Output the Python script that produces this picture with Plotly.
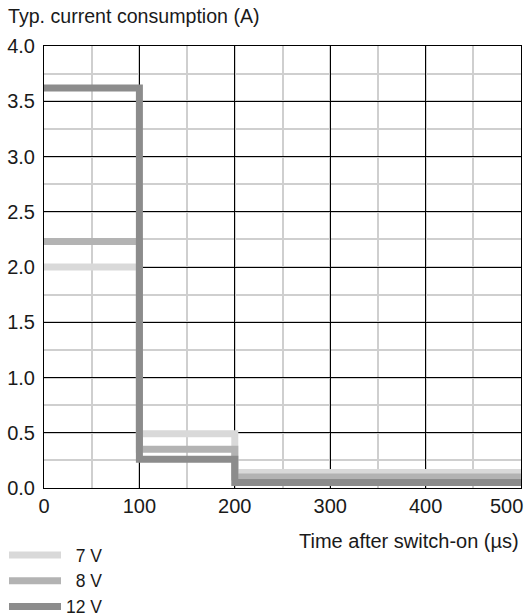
import plotly.graph_objects as go

# Data
series_names = ["7 V", "8 V", "12 V"]
legend_labels = ["\u20077 V", "\u20078 V", "12 V"]
time_us = [0, 100, 200, 500]
current_7v = [2.00, 0.49, 0.14, 0.14]
current_8v = [2.23, 0.35, 0.10, 0.10]
current_12v = [3.62, 0.26, 0.05, 0.05]
colors = ["#d9d9d9", "#b3b3b3", "#8c8c8c"]
x_ticks = [0, 100, 200, 300, 400, 500]
x_ticklabels = ["0", "100", "200", "300", "400", "500"]
y_ticks = [0.0, 0.5, 1.0, 1.5, 2.0, 2.5, 3.0, 3.5, 4.0]

FONT = "Liberation Sans"
W, H = 528, 616
L, R, T, B = 44, 7, 46, 128
PW, PH = W - L - R, H - T - B

fig = go.Figure()
for name, lab, ys, col in zip(series_names, legend_labels,
                              [current_7v, current_8v, current_12v], colors):
    fig.add_trace(go.Scatter(
        x=time_us, y=ys, mode="lines", name=lab,
        line=dict(shape="hv", color=col, width=7),
    ))

# last tick label is kept inside the figure (right-aligned at its tick)
ticktext = x_ticklabels[:-1] + [""]
annotations = [
    dict(text="Time after switch-on (µs)", xref="paper", yref="paper",
         x=1, y=0, xanchor="right", yanchor="middle",
         yshift=-53, showarrow=False, font=dict(size=20)),
    dict(text=x_ticklabels[-1], xref="x", yref="paper", x=x_ticks[-1], y=0,
         xanchor="right", yanchor="middle", xshift=4, yshift=-18,
         showarrow=False, font=dict(size=20)),
]

fig.update_layout(
    width=W, height=H,
    margin=dict(l=L, r=R, t=T, b=B, autoexpand=False),
    plot_bgcolor="white", paper_bgcolor="white",
    font=dict(family=FONT, size=19, color="#1a1a1a"),
    title=dict(text="Typ. current consumption (A)", x=8 / W, xref="container",
               xanchor="left", y=1 - 16 / H, yref="container", yanchor="middle",
               pad=dict(l=0, r=0, t=0, b=0),
               font=dict(size=19.6, family=FONT, color="#1a1a1a")),
    showlegend=True,
    legend=dict(x=(4 - L) / PW, y=-(537 - (H - B)) / PH,
                xanchor="left", yanchor="top", font=dict(size=17.5),
                itemwidth=52, bgcolor="rgba(0,0,0,0)"),
    annotations=annotations,
)

fig.update_xaxes(
    range=[0, 500], tickvals=x_ticks, ticktext=ticktext,
    showgrid=True, gridcolor="black", gridwidth=1,
    showline=True, linecolor="black", linewidth=1, mirror=True,
    ticks="", zeroline=False, automargin=False,
    tickfont=dict(size=20),
    minor=dict(dtick=50, tick0=0, showgrid=True, gridcolor="#cfcfcf", gridwidth=2),
)
fig.update_yaxes(
    range=[0, 4], tickvals=y_ticks, tickformat=".1f",
    showgrid=True, gridcolor="black", gridwidth=1,
    showline=True, linecolor="black", linewidth=1, mirror=True,
    ticks="", zeroline=False, automargin=False, ticklabeloverflow="allow",
    tickfont=dict(size=20), ticklabelstandoff=4,
    minor=dict(dtick=0.25, tick0=0, showgrid=True, gridcolor="#cfcfcf", gridwidth=2),
)

fig.write_html(
    "out.html",
    config={"displayModeBar": False},
    post_script="document.body.style.margin='0';document.body.style.overflow='hidden';",
)
